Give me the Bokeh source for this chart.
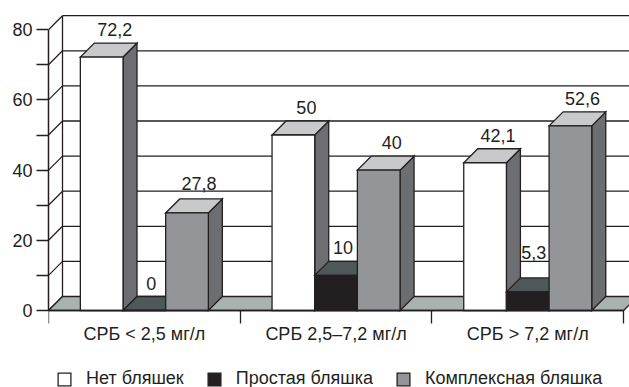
from bokeh.plotting import figure
from bokeh.models import Range1d, LinearAxis, FixedTicker, Legend, LegendItem
from bokeh.embed import file_html
from bokeh.resources import INLINE
from bokeh.core.properties import value

# --- data -------------------------------------------------------------
categories = ["СРБ < 2,5 мг/л", "СРБ 2,5–7,2 мг/л", "СРБ > 7,2 мг/л"]
series_names = ["Нет бляшек", "Простая бляшка", "Комплексная бляшка"]
no_plaque = [72.2, 50, 42.1]
simple_plaque = [0, 10, 5.3]
complex_plaque = [27.8, 40, 52.6]
value_labels = [["72,2", "50", "42,1"], ["0", "10", "5,3"], ["27,8", "40", "52,6"]]
y_tick_values = [0, 20, 40, 60, 80]
y_minor_values = [10, 30, 50, 70]
series_values = [no_plaque, simple_plaque, complex_plaque]

# --- layout / style ----------------------------------------------------
W, H = 629, 387
LEFT = 48
ZERO_PX = 310           # screen row of the zero line
CAT_PX = 191.7          # pixels per category along the front edge
VAL_PX = 3.51           # pixels per percent
DEPTH_PX = 14           # oblique depth of the 3D box
DX = DEPTH_PX / CAT_PX
DY = DEPTH_PX / VAL_PX
BAR_W = 0.2226          # bar width in category units
Y_MAX = 80

INK = "#231f20"
FONT = "Liberation Sans"
FS = "18px"
front_colors = ["#ffffff", "#231f20", "#939598"]
top_colors = ["#c8c9cb", "#4e5858", "#c8c9cb"]
side_colors = ["#6d6e71", "#3a3a3a", "#6d6e71"]
FLOOR = "#a9b1b1"

# small per-label nudges (pixels) for the value captions
label_dx_px = [[13, 13, 13], [7, 7, 6], [12, 13, 12]]
label_dy_px = [[14, 14, 13], [13, 14, 25], [15, 14, 13]]

p = figure(width=W, height=H,
           x_range=Range1d(0, (W - LEFT) / CAT_PX),
           y_range=Range1d(-(H - ZERO_PX) / VAL_PX, ZERO_PX / VAL_PX),
           x_axis_type=None, y_axis_type=None,
           min_border_left=LEFT, min_border_right=0,
           min_border_top=0, min_border_bottom=0,
           output_backend="svg", toolbar_location=None)
p.outline_line_color = None
p.background_fill_color = "white"

# y axis on the front-left edge
yax = LinearAxis(ticker=FixedTicker(ticks=y_tick_values, minor_ticks=y_minor_values),
                 bounds=(0, Y_MAX))
yax.axis_line_color = INK
yax.axis_line_width = 1.5
yax.major_tick_line_color = INK
yax.minor_tick_line_color = INK
yax.major_tick_line_width = 1.3
yax.minor_tick_line_width = 1.3
yax.major_tick_out = 12
yax.major_tick_in = 0
yax.minor_tick_out = 12
yax.minor_tick_in = 0
yax.major_label_standoff = 4
yax.major_label_text_font = FONT
yax.major_label_text_font_size = FS
yax.major_label_text_color = INK
p.add_layout(yax, "left")

# x axis along the zero line: ticks at category borders, labels at centres
ncat = len(categories)
xax = LinearAxis(ticker=FixedTicker(ticks=[i + 0.5 for i in range(ncat)],
                                    minor_ticks=list(range(ncat + 1))),
                 bounds=(0, ncat), fixed_location=0)
xax.major_label_overrides = {i + 0.5: c for i, c in enumerate(categories)}
xax.axis_line_color = INK
xax.axis_line_width = 1.5
xax.major_tick_line_color = None
xax.major_tick_out = 0
xax.major_tick_in = 0
xax.minor_tick_line_color = INK
xax.minor_tick_line_width = 1.3
xax.minor_tick_out = 13
xax.minor_tick_in = 0
xax.major_label_standoff = 0
xax.major_label_text_font = FONT
xax.major_label_text_font_size = FS
xax.major_label_text_color = INK

# back wall grid and left-wall diagonals
levels = list(range(10, Y_MAX + 1, 10))
p.segment(x0=[DX] * len(levels), y0=[v + DY for v in levels],
          x1=[ncat + 2 * DX] * len(levels), y1=[v + DY for v in levels],
          line_color=INK, line_width=1.3)
p.segment(x0=[DX], y0=[DY], x1=[DX], y1=[Y_MAX + DY], line_color=INK, line_width=1.3)
diag = list(range(0, Y_MAX + 1, 10))
p.segment(x0=[0] * len(diag), y0=diag, x1=[DX] * len(diag), y1=[v + DY for v in diag],
          line_color=INK, line_width=1.3)

# floor
p.patch(x=[0, ncat, ncat + DX, DX], y=[0, 0, DY, DY],
        fill_color=FLOOR, line_color=INK, line_width=1.3, line_join="miter")

# bars, drawn left to right so nearer faces cover the sides of their neighbours
front_renderers = {}
lab_x, lab_y, lab_t = [], [], []
for i in range(ncat):
    for s, vals in enumerate(series_values):
        v = vals[i]
        left = i + 0.5 - 1.5 * BAR_W + s * BAR_W
        right = left + BAR_W
        p.patch(x=[right, right + DX, right + DX, right], y=[0, DY, v + DY, v],
                fill_color=side_colors[s], line_color=INK, line_width=1.3, line_join="miter")
        p.patch(x=[left, right, right + DX, left + DX], y=[v, v, v + DY, v + DY],
                fill_color=top_colors[s], line_color=INK, line_width=1.3, line_join="miter")
        r = p.quad(left=[left], right=[right], bottom=[0], top=[v],
                   fill_color=front_colors[s], line_color=INK, line_width=1.3, line_join="miter")
        front_renderers.setdefault(s, r)
        lab_x.append((left + right) / 2 + label_dx_px[s][i] / CAT_PX)
        lab_y.append(v + DY + label_dy_px[s][i] / VAL_PX)
        lab_t.append(value_labels[s][i])

p.text(x=lab_x, y=lab_y, text=lab_t, text_align="center", text_baseline="middle",
       text_font=value(FONT), text_font_size=FS, text_color=INK)

p.add_layout(xax, "below")

legend = Legend(items=[LegendItem(label=n, renderers=[front_renderers[s]])
                       for s, n in enumerate(series_names)],
                orientation="horizontal", location=(8, -2))
legend.glyph_width = 16
legend.glyph_height = 16
legend.label_standoff = 14
legend.spacing = 22
legend.padding = 0
legend.margin = 0
legend.border_line_color = None
legend.background_fill_alpha = 0
legend.label_text_font = FONT
legend.label_text_font_size = FS
legend.label_text_color = INK
p.add_layout(legend)

open("out.html", "w").write(file_html(p, INLINE))
